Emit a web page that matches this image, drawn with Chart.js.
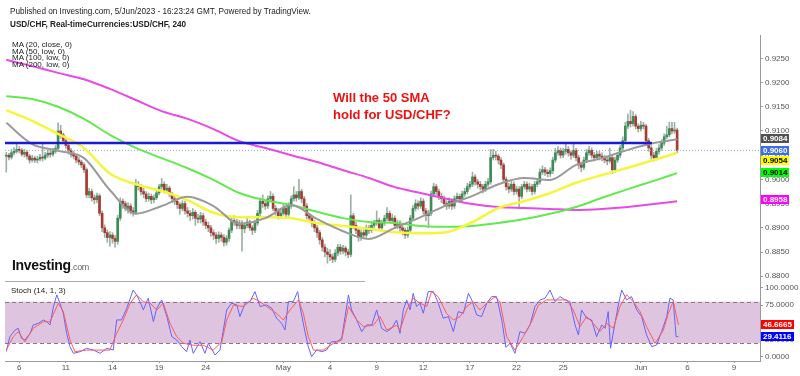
<!DOCTYPE html>
<html>
<head>
<meta charset="utf-8">
<script src="https://cdn.jsdelivr.net/npm/chart.js@4.4.0/dist/chart.umd.min.js"></script>
<style>
body { margin: 0; background: #fff; font-family: "Liberation Sans", Arial, sans-serif; }
#wrap { position: relative; width: 800px; height: 376px; overflow: hidden; background: #fff; }
canvas { position: absolute; left: 0; }
.t { position: absolute; white-space: nowrap; color: #222; }
</style>
</head>
<body>
<div id="wrap">
<canvas id="main" width="800" height="281" style="top:0;width:800px;height:281px"></canvas>
<canvas id="stoch" width="800" height="95" style="top:281px;width:800px;height:95px"></canvas>
<div class="t" style="left:10px;top:7px;font-size:8.2px">Published on Investing.com, 5/Jun/2023 - 16:23:24 GMT, Powered by TradingView.</div>
<div class="t" style="left:10px;top:20px;font-size:8.2px;font-weight:bold">USD/CHF, Real-timeCurrencies:USD/CHF, 240</div>
<div class="t" style="left:12px;top:42px;font-size:8px;line-height:6.7px">MA (20, close, 0)<br>MA (50, low, 0)<br>MA (100, low, 0)<br>MA (200, low, 0)</div>
<div class="t" style="left:333px;top:89px;font-size:13px;line-height:17px;font-weight:bold;color:#ee1111">Will the 50 SMA<br>hold for USD/CHF?</div>
<div class="t" style="left:12px;top:257px;font-size:14px;font-weight:bold;color:#111;letter-spacing:-0.3px">Investing<span style="font-size:9px;font-weight:normal;color:#666">.com</span></div>
<div class="t" style="left:11px;top:286px;font-size:8px">Stoch (14, 1, 3)</div>
</div>
<script>
// 4h candles, prices in pips (0.9050 -> 9050); open = previous close
var FIRST_OPEN = 9048;
var closes = [
  9050, 9046, 9055, 9058, 9062, 9060, 9052, 9056, 9048, 9040,
  9044, 9040, 9042, 9046, 9044, 9050, 9054, 9052, 9058, 9064,
  9100, 9092, 9080, 9070, 9060, 9052, 9048, 9040, 9036, 9030,
  9020, 8968, 8975, 8962, 8958, 8966, 8930, 8900, 8890, 8880,
  8885, 8878, 8872, 8920, 8955, 8950, 8940, 8945, 8935, 8932,
  8990, 8985, 8975, 8970, 8960, 8965, 8958, 8962, 8972, 8985,
  8990, 8978, 8982, 8970, 8960, 8955, 8948, 8940, 8950, 8935,
  8930, 8925, 8932, 8920, 8918, 8925, 8912, 8905, 8900, 8890,
  8885, 8878, 8885, 8880, 8870, 8878, 8895, 8915, 8912, 8905,
  8910, 8898, 8905, 8912, 8900, 8895, 8910, 8930, 8955, 8950,
  8945, 8960, 8965, 8940, 8935, 8925, 8930, 8940, 8928, 8945,
  8960, 8968, 8962, 8975, 8960, 8945, 8925, 8920, 8910, 8900,
  8890, 8875, 8860, 8850, 8845, 8840, 8835, 8848, 8860, 8852,
  8858, 8850, 8845, 8925, 8905, 8895, 8880, 8890, 8885, 8900,
  8895, 8905, 8910, 8915, 8900, 8910, 8920, 8930, 8915, 8920,
  8905, 8910, 8900, 8895, 8885, 8895, 8920, 8940, 8950, 8945,
  8955, 8935, 8925, 8930, 8970, 8985, 8975, 8965, 8960, 8950,
  8945, 8955, 8945, 8960, 8965, 8960, 8970, 8975, 8985, 8990,
  9005, 8995, 8990, 8985, 8980, 8990, 8995, 9045, 9050, 9048,
  9040, 9030, 9000, 8985, 8980, 8990, 8975, 8980, 8965, 8985,
  8990, 8980, 8985, 8975, 8990, 8995, 9015, 9020, 9015, 9012,
  9018, 9040, 9055, 9060, 9050, 9058, 9062, 9055, 9050, 9060,
  9045, 9030, 9025, 9040, 9055, 9060, 9050, 9045, 9052, 9048,
  9045, 9040, 9038, 9045, 9020, 9040, 9050, 9065, 9080, 9110,
  9120, 9115, 9130, 9110, 9105, 9112, 9110, 9080, 9065, 9050,
  9045, 9058, 9065, 9075, 9088, 9092, 9105, 9100, 9102, 9060
];
var highs = [
  9056, 9054, 9062, 9066, 9075, 9068, 9064, 9062, 9060, 9052,
  9050, 9048, 9048, 9052, 9076, 9056, 9060, 9060, 9064, 9070,
  9117, 9112, 9096, 9084, 9074, 9064, 9058, 9052, 9046, 9040,
  9034, 9024, 8982, 8980, 8968, 8972, 8970, 8935, 8906, 8896,
  8892, 8890, 8884, 8926, 8962, 8960, 8955, 8952, 8950, 8942,
  9000, 8996, 8990, 8982, 8975, 8972, 8970, 8968, 8978, 8990,
  9002, 8995, 8990, 8986, 8974, 8966, 8960, 8952, 8956, 8955,
  8942, 8936, 8940, 8936, 8928, 8932, 8930, 8918, 8912, 8905,
  8896, 8890, 8892, 8890, 8886, 8884, 8900, 8922, 8925, 8918,
  8916, 8915, 8912, 8920, 8916, 8905, 8916, 8936, 8962, 8968,
  8956, 8966, 8975, 8970, 8946, 8940, 8938, 8948, 8945, 8952,
  8966, 8985, 8975, 9000, 8980, 8965, 8950, 8930, 8925, 8915,
  8905, 8895, 8880, 8866, 8858, 8855, 8846, 8855, 8866, 8866,
  8864, 8862, 8856, 8968, 8930, 8912, 8900, 8896, 8896, 8906,
  8905, 8912, 8916, 8935, 8920, 8916, 8926, 8942, 8935, 8928,
  8925, 8916, 8915, 8905, 8900, 8902, 8926, 8946, 8958, 8956,
  8962, 8960, 8940, 8936, 8976, 8992, 8990, 8980, 8972, 8966,
  8956, 8962, 8960, 8966, 8972, 8970, 8976, 8982, 8992, 8996,
  9015, 9010, 9000, 8996, 8990, 8996, 9002, 9062, 9062, 9058,
  9052, 9045, 9034, 9005, 8992, 8996, 8995, 8986, 8985, 8990,
  8996, 8995, 8992, 8990, 8996, 9002, 9022, 9028, 9025, 9020,
  9024, 9046, 9064, 9068, 9065, 9064, 9075, 9068, 9060, 9076,
  9064, 9050, 9036, 9046, 9062, 9068, 9065, 9056, 9058, 9058,
  9055, 9050, 9046, 9065, 9050, 9046, 9056, 9070, 9088, 9118,
  9135, 9143, 9140, 9134, 9115, 9120, 9118, 9114, 9085, 9070,
  9056, 9064, 9072, 9082, 9094, 9110, 9118, 9118, 9118, 9106
];
var lows = [
  9015, 9040, 9042, 9050, 9054, 9055, 9048, 9046, 9042, 9034,
  9036, 9035, 9034, 9038, 9038, 9040, 9045, 9046, 9048, 9054,
  9060, 9085, 9074, 9064, 9052, 9046, 9042, 9034, 9030, 9024,
  9014, 8962, 8962, 8955, 8950, 8952, 8925, 8892, 8880, 8870,
  8862, 8868, 8860, 8866, 8915, 8940, 8935, 8930, 8928, 8924,
  8928, 8978, 8968, 8962, 8954, 8955, 8950, 8952, 8958, 8968,
  8980, 8972, 8972, 8964, 8952, 8948, 8940, 8928, 8935, 8928,
  8922, 8915, 8918, 8905, 8910, 8910, 8905, 8898, 8892, 8882,
  8876, 8868, 8870, 8872, 8862, 8864, 8872, 8890, 8905, 8898,
  8898, 8852, 8890, 8900, 8894, 8886, 8890, 8905, 8925, 8942,
  8938, 8940, 8955, 8935, 8926, 8918, 8920, 8926, 8920, 8924,
  8940, 8955, 8955, 8958, 8952, 8940, 8918, 8912, 8902, 8892,
  8880, 8866, 8852, 8840, 8827, 8832, 8828, 8830, 8842, 8845,
  8846, 8842, 8838, 8840, 8898, 8888, 8872, 8874, 8878, 8880,
  8888, 8890, 8900, 8905, 8894, 8895, 8905, 8915, 8910, 8910,
  8898, 8898, 8892, 8885, 8878, 8880, 8890, 8915, 8935, 8938,
  8940, 8928, 8915, 8900, 8925, 8965, 8968, 8958, 8952, 8944,
  8938, 8940, 8938, 8940, 8955, 8952, 8955, 8965, 8970, 8980,
  8985, 8988, 8982, 8978, 8972, 8975, 8985, 8990, 9040, 9040,
  9032, 9022, 8994, 8978, 8972, 8975, 8968, 8970, 8940, 8960,
  8980, 8974, 8975, 8968, 8970, 8985, 8990, 9010, 9008, 9005,
  9006, 9012, 9035, 9050, 9044, 9045, 9052, 9048, 9042, 9045,
  9038, 9022, 9016, 9020, 9035, 9050, 9044, 9038, 9040, 9040,
  9038, 9034, 9030, 9034, 9012, 9015, 9035, 9045, 9060, 9075,
  9105, 9108, 9110, 9104, 9098, 9100, 9104, 9072, 9058, 9042,
  9038, 9040, 9052, 9060, 9070, 9084, 9088, 9094, 9095, 9055
];

// moving averages read every 10 bars
var maIdx = [0, 10, 20, 30, 40, 50, 60, 70, 80, 90, 100, 110, 120, 130, 140, 150, 160, 170, 180, 190, 200, 210, 220, 230, 240, 250, 259];
var ma20 = [9117, 9073, 9059, 9044, 8978, 8929, 8945, 8964, 8945, 8908, 8920, 8947, 8918, 8893, 8877, 8900, 8922, 8947, 8966, 8990, 9003, 8999, 9030, 9044, 9061, 9075, 9083];
var ma50 = [9143, 9121, 9094, 9065, 9012, 8990, 8976, 8957, 8931, 8922, 8922, 8920, 8910, 8904, 8898, 8891, 8889, 8891, 8912, 8941, 8955, 8972, 8993, 9009, 9024, 9040, 9055];
var ma100 = [9172, 9166, 9150, 9125, 9092, 9065, 9044, 9023, 8999, 8972, 8957, 8947, 8933, 8920, 8912, 8910, 8904, 8902, 8904, 8910, 8918, 8929, 8943, 8962, 8980, 8997, 9013];
var ma200 = [9247, 9234, 9220, 9207, 9187, 9164, 9141, 9125, 9104, 9079, 9065, 9050, 9036, 9019, 9003, 8984, 8972, 8960, 8949, 8943, 8941, 8939, 8937, 8939, 8943, 8949, 8955];

var resistance = 9075;
var resistanceEnd = 249.3;
var lastPrice = 9060;

var priceTicks = [0.8800, 0.8850, 0.8900, 0.8950, 0.9000, 0.9050, 0.9100, 0.9150, 0.9200, 0.9250];
var dateTickIdx = [5, 23, 41, 59, 77, 107, 125, 143, 161, 179, 197, 215, 245, 263, 281];
var dateTickLabels = ["6", "11", "14", "19", "24", "May", "4", "9", "12", "17", "22", "25", "Jun", "6", "9"];

// stochastic %K (blue) and %D (red)
var kIdx = [0, 1.4, 3.4, 4.6, 5.9, 7.2, 9.2, 10.4, 12.4, 14.3, 15.6, 16.9, 18.2, 19.5, 20.7, 22, 23.3, 24.6, 25.9, 28.5,
  31, 33.6, 36.2, 38.8, 41.3, 42.6, 44.5, 46.5, 49, 50.3, 51.6, 52.9, 54.8, 56.8, 58.1, 60, 62, 63.9, 65.8, 67.7,
  69.6, 70.9, 72.2, 74.8, 76.7, 78, 80.6, 82.5, 85.1, 87, 89, 90.2, 92.2, 94.1, 96, 98, 100.5, 102.5, 104.4, 106.3,
  107.6, 108.9, 110.8, 112.5, 113.4, 115.3, 116.6, 117.9, 119.8, 121.8, 123.7, 125.6, 127.6, 129.5, 130.8, 132.1, 133.3, 135.3, 137.2, 139.1,
  141.1, 143, 144.9, 146.9, 148.8, 150.7, 152, 153.3, 154.6, 155.9, 157.1, 158.4, 159.7, 161, 162.9, 164.9, 166.8, 168.7, 170.7, 172.6,
  174.5, 176.5, 178.4, 179.7, 181.6, 183.5, 185.5, 187.4, 189.3, 191.3, 192.9, 194.5, 196.4, 198.3, 200.3, 202.2, 204.1, 206.1, 208, 209.9,
  211.8, 213.8, 215.7, 217.6, 219.6, 220.9, 222.1, 224.1, 226, 227.9, 229.9, 231.2, 232.4, 233.3, 235, 236.3, 237.6, 239.5, 241.4, 243.4,
  245.3, 247.2, 249.2, 251.1, 253, 255, 256.2, 257.5, 258.6, 259.5];
var kVal = [8, 29.5, 39, 41.5, 27, 24.6, 34.3, 46.4, 48.8, 53.6, 51.2, 46.4, 73, 89.9, 77.8, 63.3, 34.3, 15, 5.3, 7.7,
  12.6, 10.1, 5.3, 12.6, 10.1, 53.6, 53.6, 70.5, 97, 89.9, 80.2, 68.1, 85, 51.2, 70.5, 82.6, 58.5, 29.5, 24.6, 15,
  7.7, 24.6, 5.3, 22.2, 5.3, 19.8, 2.9, 10.1, 68.1, 77.8, 75.4, 58.5, 77.8, 80.2, 94.7, 73, 75.4, 70.5, 56, 48.8,
  39.1, 80.2, 80.2, 94.7, 73, 36.7, 15, 0.5, 10.1, 7.7, 10.1, 22.2, 22.2, 27.1, 58.5, 89.9, 68.1, 53.6, 36.7, 46.4,
  46.4, 68.1, 41.5, 36.7, 41.5, 53.6, 34.3, 68.1, 82.6, 68.1, 92.2, 73, 77.8, 63.3, 94.7, 94.7, 77.8, 56, 58.5, 36.7,
  65.7, 63.3, 92.2, 82.6, 60.9, 58.5, 77.8, 87.4, 87.4, 53.6, 14, 19.8, 5.3, 36.7, 34.3, 46.4, 73, 82.6, 85, 97,
  80.2, 87.4, 82.6, 80.2, 46.4, 31.9, 68.1, 56, 53.6, 29.5, 46.4, 41.5, 65.7, 12.6, 48.8, 75.4, 97, 82.6, 87.4, 68.1,
  58.5, 31.9, 15, 17.4, 36.7, 58.5, 85, 82.6, 29.5, 29.4116];
var dIdx = [0, 2.7, 4.6, 7.2, 10.4, 14.3, 16.9, 20.1, 22, 24.6, 26.5, 31, 36.2, 40, 42.6, 45.2, 47.8, 50.3, 52.9, 55.5,
  58.1, 60.6, 63.2, 65.8, 68.4, 72.2, 76.1, 79.9, 83.2, 85.1, 87.7, 91.5, 95.4, 98, 100.5, 104.4, 107, 109.5, 112.8, 114.7,
  116.6, 118.6, 122.4, 126.3, 129.5, 132.1, 135.3, 137.9, 141.7, 144.3, 146.9, 150.7, 152, 154.6, 157.1, 159.7, 162.3, 164.2, 166.8, 170,
  172.6, 175.2, 177.7, 180.3, 182.9, 185.5, 188.7, 190.6, 193.2, 196.4, 199.6, 202.8, 205.4, 208.6, 211.2, 216.4, 218.9, 221.5, 224.1, 226.6,
  229.2, 231.8, 234.4, 236.9, 239.5, 242.1, 244.7, 247.2, 250.5, 253.7, 255.6, 257.5, 259.5];
var dVal = [10, 29.5, 36.7, 22, 41.5, 51, 51, 77.8, 65.7, 24.6, 7.7, 10, 10, 10, 34, 53.6, 77.8, 90, 80, 78,
  68, 78, 48.8, 29.5, 19.8, 17, 17, 10, 22, 53.6, 75, 73, 85, 80, 73, 63, 53.6, 68, 82.6, 63,
  29.5, 10, 10, 19.8, 24.6, 73, 53.6, 44, 46, 58.5, 39, 46, 39, 68, 85, 78, 73, 94.7, 87, 63,
  53.6, 58.5, 73, 80, 68, 78, 87, 80, 29.5, 10, 29.5, 51, 75, 82.6, 82.6, 82.6, 68, 44, 58.5, 48.8,
  36.7, 48.8, 41.5, 73, 90, 80, 65.7, 44, 19.8, 39, 63, 80, 46.6665];
var stochTicks = [0, 25, 50, 75, 100];

var UP = "#3b8c55", DOWN = "#a83a32", WICK = "#9db0a5";
var FONT = "Liberation Sans";

function px(p) { return p / 10000; }

var wickData = [], bodyData = [], bodyColors = [];
for (var i = 0; i < closes.length; i++) {
  var o = i ? closes[i - 1] : FIRST_OPEN;
  wickData.push({ x: i, y: [px(lows[i]), px(highs[i])] });
  bodyData.push({ x: i, y: [px(o), px(closes[i])] });
  bodyColors.push(closes[i] >= o ? UP : DOWN);
}

function maLine(vals) {
  return maIdx.map(function (x, j) { return { x: x, y: px(vals[j]) }; });
}
function pairs(xs, ys) {
  return xs.map(function (x, j) { return { x: x, y: ys[j] }; });
}

function lineSet(data, color, width, extra) {
  var d = { type: "line", data: data, borderColor: color, borderWidth: width, pointRadius: 0, fill: false, cubicInterpolationMode: "monotone" };
  for (var k in extra || {}) d[k] = extra[k];
  return d;
}

// keep the plot area fixed: no extra room for half tick labels
function noPad(s) {
  s.paddingTop = 0; s.paddingBottom = 0; s.paddingLeft = 0; s.paddingRight = 0;
}

function drawTag(ctx, x, y, w, text, bg, fg) {
  ctx.fillStyle = bg;
  ctx.fillRect(x, Math.round(y - 4.5), w, 9);
  ctx.fillStyle = fg;
  ctx.font = "bold 8px '" + FONT + "'";
  ctx.textBaseline = "middle";
  ctx.textAlign = "left";
  ctx.fillText(text, x + 2, y + 0.5);
}

var priceTags = {
  id: "priceTags",
  afterDraw: function (chart) {
    var ctx = chart.ctx, ys = chart.scales.y;
    var tags = [
      [ma20[ma20.length - 1] + 1, "#505050", "#fff"],
      [lastPrice, "#3d6fe0", "#fff"],
      [ma50[ma50.length - 1] - 1, "#ffff00", "#000"],
      [ma100[ma100.length - 1] + 1, "#00ff00", "#000"],
      [ma200[ma200.length - 1] + 3, "#ff00ff", "#fff"]
    ];
    var prev = -100;
    ctx.save();
    tags.forEach(function (t) {
      var y = ys.getPixelForValue(px(t[0]));
      if (y < prev + 10) y = prev + 10;
      prev = y;
      drawTag(ctx, 761, y, 28, (t[0] / 10000).toFixed(4), t[1], t[2]);
    });
    ctx.restore();
  }
};

new Chart(document.getElementById("main"), {
  type: "bar",
  data: {
    datasets: [
      lineSet([{ x: -0.5, y: px(resistance) }, { x: resistanceEnd, y: px(resistance) }], "#1a1ad6", 2.5),
      lineSet(maLine(ma20), "#9a9a9a", 2),
      lineSet(maLine(ma50), "#f5f53c", 2.5),
      lineSet(maLine(ma100), "#63e94f", 2),
      lineSet(maLine(ma200), "#e64be6", 2),
      lineSet([{ x: -0.5, y: px(lastPrice) }, { x: 291, y: px(lastPrice) }], "#8fa3e8", 1, { borderDash: [1, 2] }),
      { type: "bar", data: bodyData, backgroundColor: bodyColors, barThickness: 2, grouped: false, minBarLength: 1 },
      { type: "bar", data: wickData, backgroundColor: WICK, barThickness: 1, grouped: false }
    ]
  },
  options: {
    responsive: false,
    animation: false,
    events: [],
    layout: { padding: { left: 5, top: 35, bottom: 1, right: 0 } },
    plugins: { legend: { display: false }, tooltip: { enabled: false } },
    scales: {
      x: { type: "linear", min: -0.5, max: 291, display: false, offset: false },
      y: {
        position: "right",
        min: 0.87922,
        max: 0.92983,
        afterBuildTicks: function (s) { s.ticks = priceTicks.map(function (v) { return { value: v }; }); },
        afterFit: function (s) { s.width = 40; noPad(s); },
        border: { color: "#999", width: 1 },
        grid: { drawOnChartArea: false, tickLength: 3, color: "#999" },
        ticks: { color: "#555", padding: 2, font: { family: FONT, size: 8 }, callback: function (v) { return v.toFixed(4); } }
      }
    }
  },
  plugins: [priceTags]
});

var stochDeco = {
  id: "stochDeco",
  beforeDatasetsDraw: function (chart) {
    var ctx = chart.ctx, a = chart.chartArea, ys = chart.scales.y;
    var y80 = ys.getPixelForValue(80), y20 = ys.getPixelForValue(20);
    ctx.save();
    ctx.fillStyle = "#dfc4df";
    ctx.fillRect(a.left, y80, a.right - a.left, y20 - y80);
    ctx.strokeStyle = "#8a788a";
    ctx.lineWidth = 1;
    ctx.setLineDash([4, 3]);
    [y80, y20].forEach(function (y) {
      ctx.beginPath();
      ctx.moveTo(a.left, Math.round(y) + 0.5);
      ctx.lineTo(a.right, Math.round(y) + 0.5);
      ctx.stroke();
    });
    ctx.setLineDash([]);
    ctx.strokeStyle = "#aaa";
    ctx.beginPath();
    ctx.moveTo(5, 0.5);
    ctx.lineTo(365, 0.5);
    ctx.stroke();
    ctx.restore();
  },
  afterDraw: function (chart) {
    var ctx = chart.ctx, ys = chart.scales.y;
    ctx.save();
    var yd = ys.getPixelForValue(dVal[dVal.length - 1]);
    var yk = ys.getPixelForValue(kVal[kVal.length - 1]);
    if (yk < yd + 10) yk = yd + 10;
    drawTag(ctx, 761, yd, 33, "46.6665", "#ff0000", "#fff");
    drawTag(ctx, 761, yk, 33, "29.4116", "#0000ff", "#fff");
    ctx.restore();
  }
};

new Chart(document.getElementById("stoch"), {
  type: "line",
  data: {
    datasets: [
      { data: pairs(dIdx, dVal), borderColor: "#ff5a5a", borderWidth: 1, pointRadius: 0, fill: false },
      { data: pairs(kIdx, kVal), borderColor: "#6464ff", borderWidth: 1, pointRadius: 0, fill: false }
    ]
  },
  options: {
    responsive: false,
    animation: false,
    events: [],
    layout: { padding: { left: 5, top: 0, bottom: 0, right: 0 } },
    plugins: { legend: { display: false }, tooltip: { enabled: false } },
    scales: {
      x: {
        type: "linear",
        min: -0.5,
        max: 291,
        afterBuildTicks: function (s) { s.ticks = dateTickIdx.map(function (v) { return { value: v }; }); },
        afterFit: function (s) { s.height = 15; noPad(s); },
        border: { color: "#999", width: 1 },
        grid: { drawOnChartArea: false, tickLength: 2, color: "#999" },
        ticks: { color: "#555", padding: 0, maxRotation: 0, autoSkip: false, font: { family: FONT, size: 8 },
          callback: function (v, idx) { return dateTickLabels[idx]; } }
      },
      y: {
        position: "right",
        min: -5.8,
        max: 110,
        afterBuildTicks: function (s) { s.ticks = stochTicks.map(function (v) { return { value: v }; }); },
        afterFit: function (s) { s.width = 40; noPad(s); },
        border: { color: "#999", width: 1 },
        grid: { drawOnChartArea: false, tickLength: 3, color: "#999" },
        ticks: { color: "#555", padding: 2, font: { family: FONT, size: 8 }, callback: function (v) { return v.toFixed(4); } }
      }
    }
  },
  plugins: [stochDeco]
});
</script>
</body>
</html>
